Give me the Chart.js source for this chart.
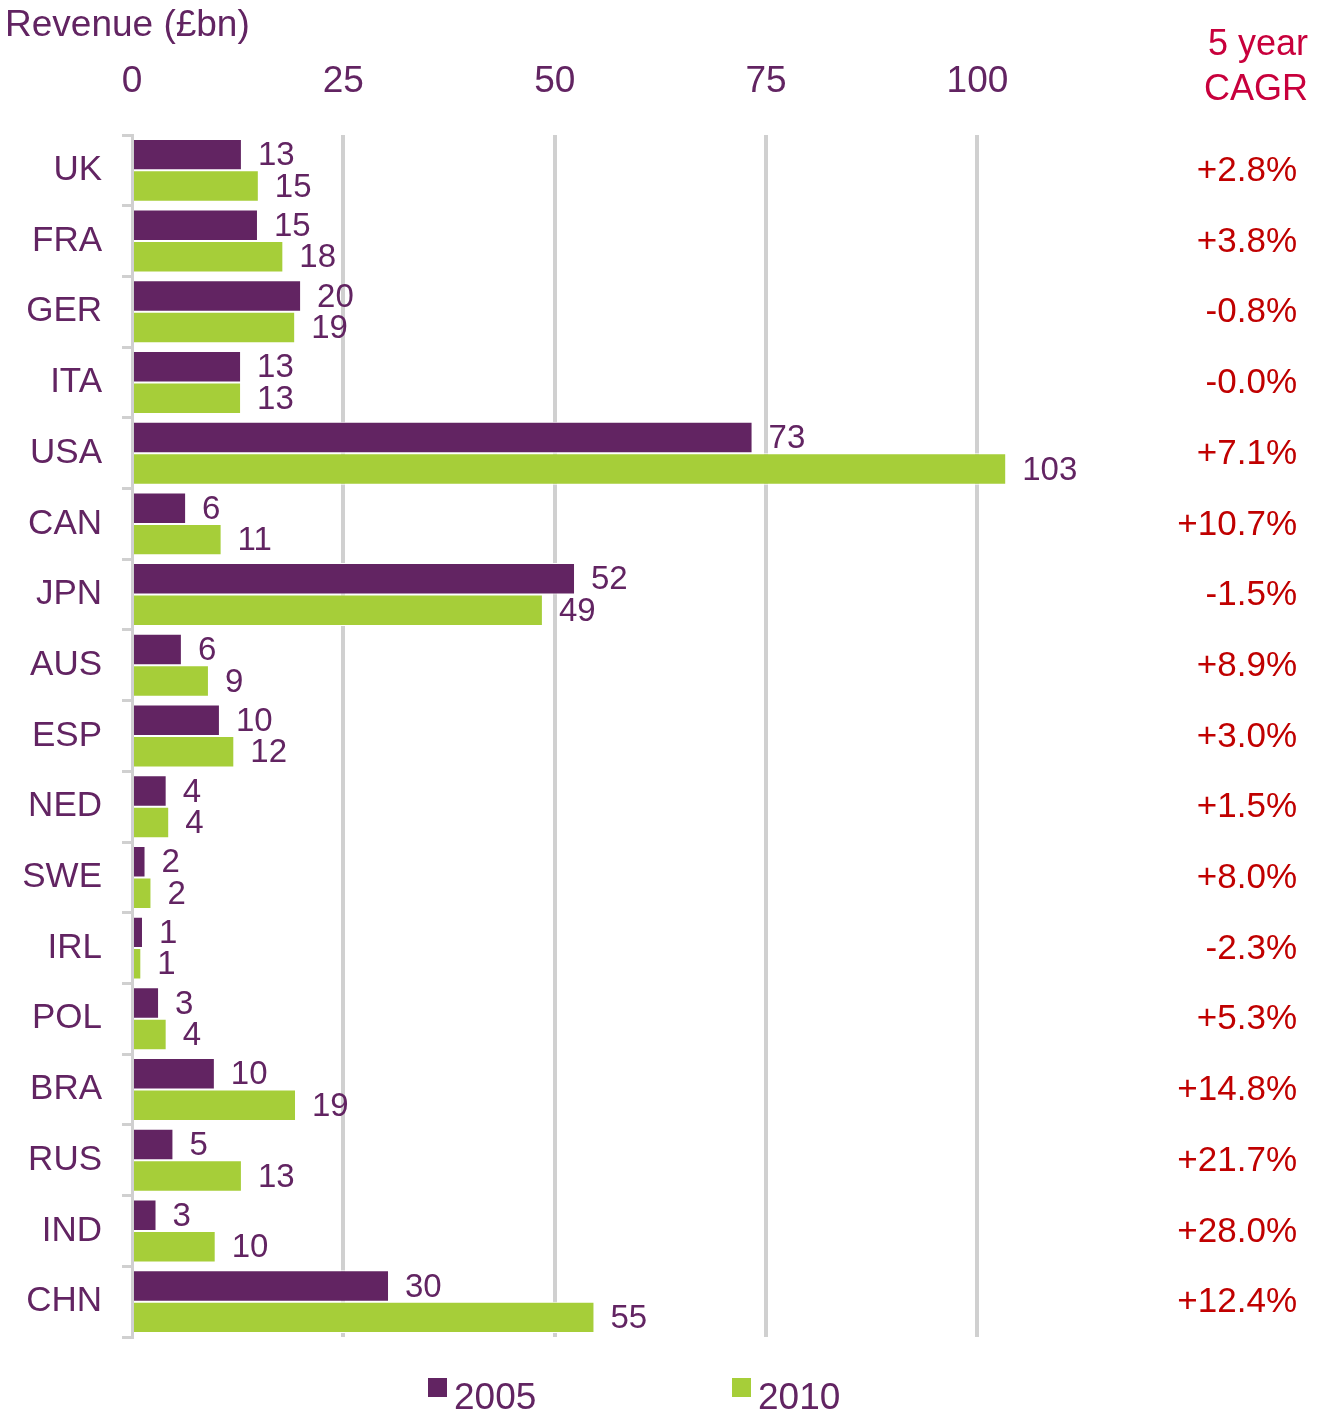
<!DOCTYPE html>
<html>
<head>
<meta charset="utf-8">
<script src="https://cdn.jsdelivr.net/npm/chart.js@4.4.1/dist/chart.umd.min.js"></script>
<style>
  html, body { margin: 0; padding: 0; background: #ffffff; }
  #wrap { position: relative; width: 1328px; height: 1414px; }
</style>
</head>
<body>
<div id="wrap"><canvas id="c"></canvas></div>
<script>
const categories = ['UK','FRA','GER','ITA','USA','CAN','JPN','AUS','ESP','NED','SWE','IRL','POL','BRA','RUS','IND','CHN'];
const revenue2005 = [13.0, 14.9, 20.0, 12.9, 73.4, 6.4, 52.4, 5.9, 10.4, 4.1, 1.6, 1.3, 3.2, 9.8, 4.9, 2.9, 30.4];
const revenue2010 = [15.0, 17.9, 19.3, 12.9, 103.4, 10.6, 48.6, 9.1, 12.1, 4.4, 2.3, 1.1, 4.1, 19.4, 13.0, 9.9, 54.7];
const cagr = ['+2.8%','+3.8%','-0.8%','-0.0%','+7.1%','+10.7%','-1.5%','+8.9%','+3.0%','+1.5%','+8.0%','-2.3%','+5.3%','+14.8%','+21.7%','+28.0%','+12.4%'];
const seriesNames = ['2005', '2010'];
const xTicks = [0, 25, 50, 75, 100];
const titleText = 'Revenue (£bn)';
const cagrHeader = ['5 year', 'CAGR'];

const PURPLE = '#622462';
const GREEN = '#a6ce39';
const GRID = '#d0d0d0';
const RED = '#c00000';
const CRIMSON = '#c8003c';
const FONT = '"Liberation Sans", Arial, Helvetica, sans-serif';

const extrasPlugin = {
  id: 'extras',
  afterDatasetsDraw(chart) {
    const ctx = chart.ctx;
    ctx.save();
    ctx.font = '33px ' + FONT;
    ctx.fillStyle = PURPLE;
    ctx.textAlign = 'left';
    ctx.textBaseline = 'middle';
    chart.data.datasets.forEach((ds, di) => {
      const meta = chart.getDatasetMeta(di);
      meta.data.forEach((el, i) => {
        ctx.fillText(String(Math.round(ds.data[i])), el.x + 16, el.y + 1.5);
      });
    });
    ctx.restore();
  },
  afterDraw(chart) {
    const ctx = chart.ctx;
    const yScale = chart.scales.y;
    ctx.save();
    ctx.font = '37px ' + FONT;
    ctx.fillStyle = PURPLE;
    ctx.textAlign = 'left';
    ctx.textBaseline = 'alphabetic';
    ctx.fillText(titleText, 5, 36);
    ctx.font = '36px ' + FONT;
    ctx.fillStyle = CRIMSON;
    ctx.textAlign = 'right';
    ctx.fillText(cagrHeader[0], 1308, 55);
    ctx.fillText(cagrHeader[1], 1308, 100);
    ctx.font = '35px ' + FONT;
    ctx.fillStyle = RED;
    ctx.textBaseline = 'middle';
    categories.forEach((c, i) => {
      ctx.fillText(cagr[i], 1297, yScale.getPixelForValue(i) + 1);
    });
    const legendX = [428, 732];
    ctx.font = '37px ' + FONT;
    ctx.textAlign = 'left';
    ctx.textBaseline = 'alphabetic';
    chart.data.datasets.forEach((ds, di) => {
      ctx.fillStyle = ds.backgroundColor;
      ctx.fillRect(legendX[di], 1378, 19, 19);
      ctx.fillStyle = PURPLE;
      ctx.fillText(ds.label, legendX[di] + 26, 1409);
    });
    ctx.restore();
  }
};

new Chart(document.getElementById('c'), {
  type: 'bar',
  data: {
    labels: categories,
    datasets: [
      { label: seriesNames[0], data: revenue2005, backgroundColor: PURPLE, borderColor: '#ffffff', borderWidth: 1, barPercentage: 1, categoryPercentage: 0.89 },
      { label: seriesNames[1], data: revenue2010, backgroundColor: GREEN, borderColor: '#ffffff', borderWidth: 1, barPercentage: 1, categoryPercentage: 0.89 }
    ]
  },
  options: {
    indexAxis: 'y',
    responsive: true,
    maintainAspectRatio: false,
    animation: false,
    layout: { padding: { left: 0, right: 266, top: 0, bottom: 77 } },
    plugins: { legend: { display: false }, tooltip: { enabled: false }, title: { display: false } },
    scales: {
      x: {
        type: 'linear',
        position: 'top',
        min: 0,
        max: 110,
        afterBuildTicks(scale) { scale.ticks = xTicks.map(v => ({ value: v })); },
        afterFit(scale) { scale.height = 135; },
        grid: {
          color: (c) => (c.tick && c.tick.value === 0) ? 'rgba(0,0,0,0)' : GRID,
          lineWidth: 4,
          drawTicks: false
        },
        border: { display: false },
        ticks: { color: PURPLE, font: { family: FONT, size: 37, lineHeight: 1 }, padding: 35, maxRotation: 0 }
      },
      y: {
        type: 'category',
        afterFit(scale) { scale.width = 132; },
        grid: { drawOnChartArea: false, drawTicks: true, tickLength: 10, offset: true, color: GRID, lineWidth: 3 },
        border: { display: true, color: GRID, width: 3, z: 1 },
        ticks: { color: PURPLE, font: { family: FONT, size: 35, lineHeight: 1 }, padding: 20 }
      }
    }
  },
  plugins: [extrasPlugin]
});
</script>
</body>
</html>
